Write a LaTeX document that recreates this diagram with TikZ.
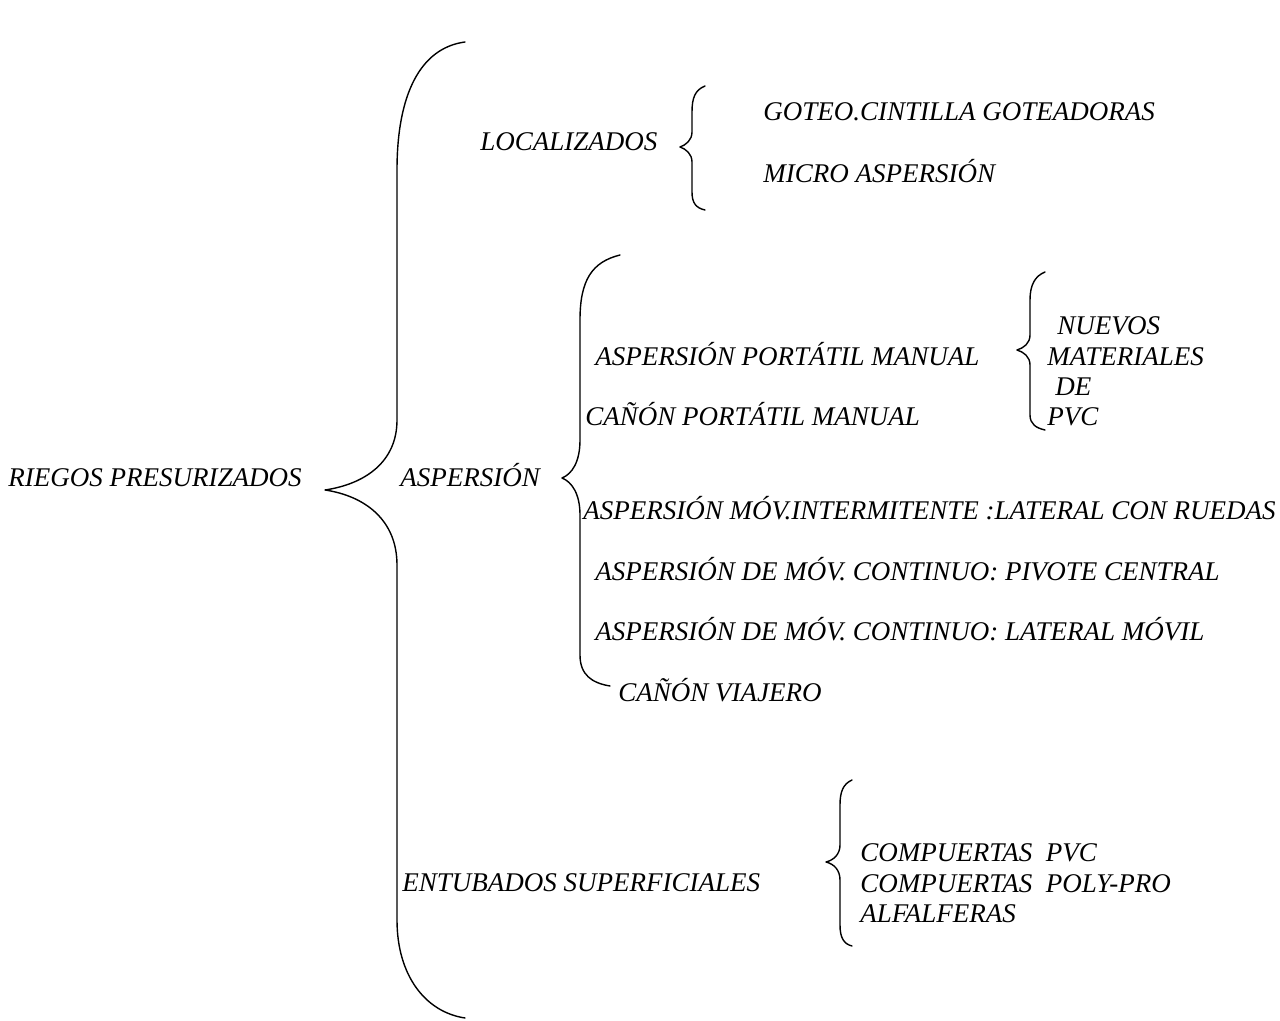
\documentclass[tikz,border=0pt]{standalone}
\usepackage{fontspec}
\setmainfont{Liberation Serif}
\usetikzlibrary{positioning}

\begin{document}
\begin{tikzpicture}[x=0.5pt, y=-0.5pt,
  rgtxt/.style={anchor=base west, inner sep=0pt, font=\fontsize{13.5}{16}\selectfont\itshape},
  rgbrace/.style={line width=0.7pt, line join=round, line cap=round}
]
\useasboundingbox (0,0) rectangle (1280,1021);
% main level
\node[rgtxt] (riegos) at (8,487) {RIEGOS PRESURIZADOS};
\node[rgtxt] (local) at (480,151) {LOCALIZADOS};
\node[rgtxt] (aspers) at (400,487) {ASPERSIÓN};
\node[rgtxt] (entub) at (402,891) {ENTUBADOS SUPERFICIALES};
% localizados
\node[rgtxt] (goteo) at (763,121) {GOTEO.CINTILLA GOTEADORAS};
\node[rgtxt] (micro) at (763,183) {MICRO ASPERSIÓN};
% aspersion
\node[rgtxt] (portatil) at (595,366) {ASPERSIÓN PORTÁTIL MANUAL};
\node[rgtxt] (canonpm) at (585,426) {CAÑÓN PORTÁTIL MANUAL};
\node[rgtxt] (intermit) at (583,520) {ASPERSIÓN MÓV.INTERMITENTE :LATERAL CON RUEDAS};
\node[rgtxt] (pivote) at (595,581) {ASPERSIÓN DE MÓV. CONTINUO: PIVOTE CENTRAL};
\node[rgtxt] (lateral) at (595,640) {ASPERSIÓN DE MÓV. CONTINUO: LATERAL MÓVIL};
\node[rgtxt] (viajero) at (618,701) {CAÑÓN VIAJERO};
% materiales
\node[rgtxt] (nuevos) at (1057,335) {NUEVOS};
\node[rgtxt] (materiales) at (1047,366) {MATERIALES};
\node[rgtxt] (de) at (1055,396) {DE};
\node[rgtxt] (pvc) at (1047,426) {PVC};
% entubados
\node[rgtxt] (comppvc) at (860,861) {COMPUERTAS\ \ PVC};
\node[rgtxt] (comppoly) at (860,892) {COMPUERTAS\ \ POLY-PRO};
\node[rgtxt] (alfalf) at (860,922) {ALFALFERAS};
% braces
\draw[rgbrace] (465,42) .. controls (420,48) and (397,95) .. (397,170) -- (397,420)
  .. controls (397,462) and (365,484) .. (325,490) .. controls (365,496) and (397,520) .. (397,565)
  -- (397,920) .. controls (397,975) and (425,1012) .. (465,1018);
\draw[rgbrace] (705,86) .. controls (695,90) and (692,98) .. (692,112) -- (692,132)
  .. controls (692,140) and (686,145) .. (680,147) .. controls (686,149) and (692,154) .. (692,162)
  -- (692,192) .. controls (692,203) and (696,208) .. (705,210);
\draw[rgbrace] (620,255) .. controls (592,262) and (580,280) .. (580,320) -- (580,440)
  .. controls (580,462) and (572,474) .. (562,478) .. controls (572,482) and (580,494) .. (580,515)
  -- (580,655) .. controls (580,675) and (592,683) .. (610,686);
\draw[rgbrace] (1045,272) .. controls (1035,276) and (1030,285) .. (1030,300) -- (1030,335)
  .. controls (1030,343) and (1024,348) .. (1017,350) .. controls (1024,352) and (1030,357) .. (1030,365)
  -- (1030,415) .. controls (1030,424) and (1036,428) .. (1045,430);
\draw[rgbrace] (852,780) .. controls (843,784) and (840,792) .. (840,805) -- (840,845)
  .. controls (840,854) and (834,860) .. (826,862) .. controls (834,864) and (840,870) .. (840,880)
  -- (840,925) .. controls (840,938) and (844,944) .. (852,946);
\end{tikzpicture}
\end{document}
